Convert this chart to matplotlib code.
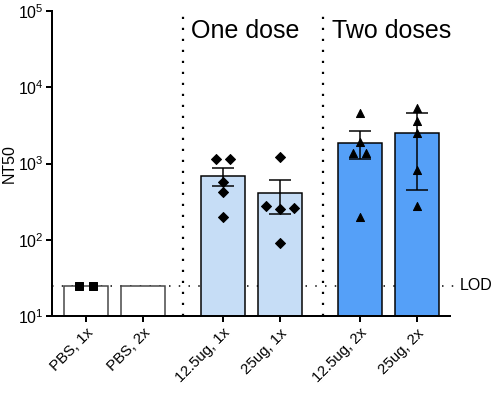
import numpy as np
import matplotlib
matplotlib.use('Agg')
import matplotlib.pyplot as plt

plt.rcParams['font.family'] = ['Liberation Sans', 'DejaVu Sans']

# ------------------------------------------------------
# data
groups = ['PBS, 1x', 'PBS, 2x', '12.5ug, 1x', '25ug, 1x', '12.5ug, 2x', '25ug, 2x']
bar_height = [25, 25, 692, 406, 1872, 2483]
err_low = [25, 25, 513, 215, 1164, 456]
err_high = [25, 25, 886, 617, 2660, 4550]

pbs1_pts = [25, 25]
dose1_12_pts = [1164, 1164, 580, 428, 200]
dose1_25_pts = [1211, 276, 250, 263, 91]
dose2_12_pts = [4645, 1907, 1380, 1380, 199]
dose2_25_pts = [5408, 3603, 2527, 832, 280]

LOD = 25

# ------------------------------------------------------
xpos = np.array([0, 1, 2.4, 3.4, 4.8, 5.8])
fills = ['white', 'white', '#c6ddf6', '#c6ddf6', '#55a0f8', '#55a0f8']
edges = ['#444444', '#444444', 'black', 'black', 'black', 'black']

fig = plt.figure(figsize=(7, 5.5), dpi=72)
ax = fig.add_axes([0.103, 0.202, 0.790, 0.770])

ax.bar(xpos, bar_height, width=0.77, color=fills, edgecolor=edges, linewidth=1.5, bottom=0, zorder=2)

# error bars (skip PBS)
for i in range(2, 6):
    lo = bar_height[i] - err_low[i]
    hi = err_high[i] - bar_height[i]
    ax.errorbar(xpos[i], bar_height[i], yerr=[[lo], [hi]], fmt='none', ecolor='black',
                elinewidth=1.5, capsize=11, capthick=1.5, zorder=3)

# individual points
ax.scatter(xpos[0] + np.array([-0.12, 0.12]), pbs1_pts, marker='s', s=65, color='black', zorder=4)
ax.scatter(xpos[2] + np.array([-0.12, 0.12, 0, 0, 0]), dose1_12_pts, marker='D', s=50, color='black', zorder=4)
ax.scatter(xpos[3] + np.array([0, -0.25, 0, 0.25, 0]), dose1_25_pts, marker='D', s=50, color='black', zorder=4)
ax.scatter(xpos[4] + np.array([0, 0, -0.12, 0.12, 0]), dose2_12_pts, marker='^', s=65, color='black', zorder=4)
ax.scatter(xpos[5] + np.array([0, 0, 0, 0, 0]), dose2_25_pts, marker='^', s=65, color='black', zorder=4)

ax.set_yscale('log')
ax.set_ylim(10, 1e5)
ax.set_xlim(-0.596, 6.386)

# LOD line and group separators
ax.plot([-0.596, 6.45], [LOD, LOD], color='black', linewidth=1.5, linestyle=(0, (1, 5.5)),
        clip_on=False, zorder=1)
ax.text(6.55, LOD, 'LOD', fontsize=16, va='center', ha='left')
for xs in [1.7, 4.16]:
    ax.plot([xs, xs], [10, 1e5], color='black', linewidth=2.2, linestyle=(0, (1, 4)), zorder=1)

ax.text(1.85, 5.4e4, 'One dose', fontsize=25, va='center', ha='left')
ax.text(4.32, 5.4e4, 'Two doses', fontsize=25, va='center', ha='left')

ax.set_xticks(xpos)
ax.set_xticklabels(groups, rotation=45, ha='right', rotation_mode='anchor', fontsize=15)
ax.set_yticks([1e1, 1e2, 1e3, 1e4, 1e5])
ax.minorticks_off()
ax.tick_params(axis='y', labelsize=16, width=2, length=6, pad=2)
ax.tick_params(axis='x', width=2, length=6, pad=4)
ax.set_ylabel('NT50', fontsize=16, labelpad=1)

ax.spines['top'].set_visible(False)
ax.spines['right'].set_visible(False)
ax.spines['left'].set_linewidth(2)
ax.spines['bottom'].set_linewidth(2)

plt.savefig('out.png', dpi=72)
